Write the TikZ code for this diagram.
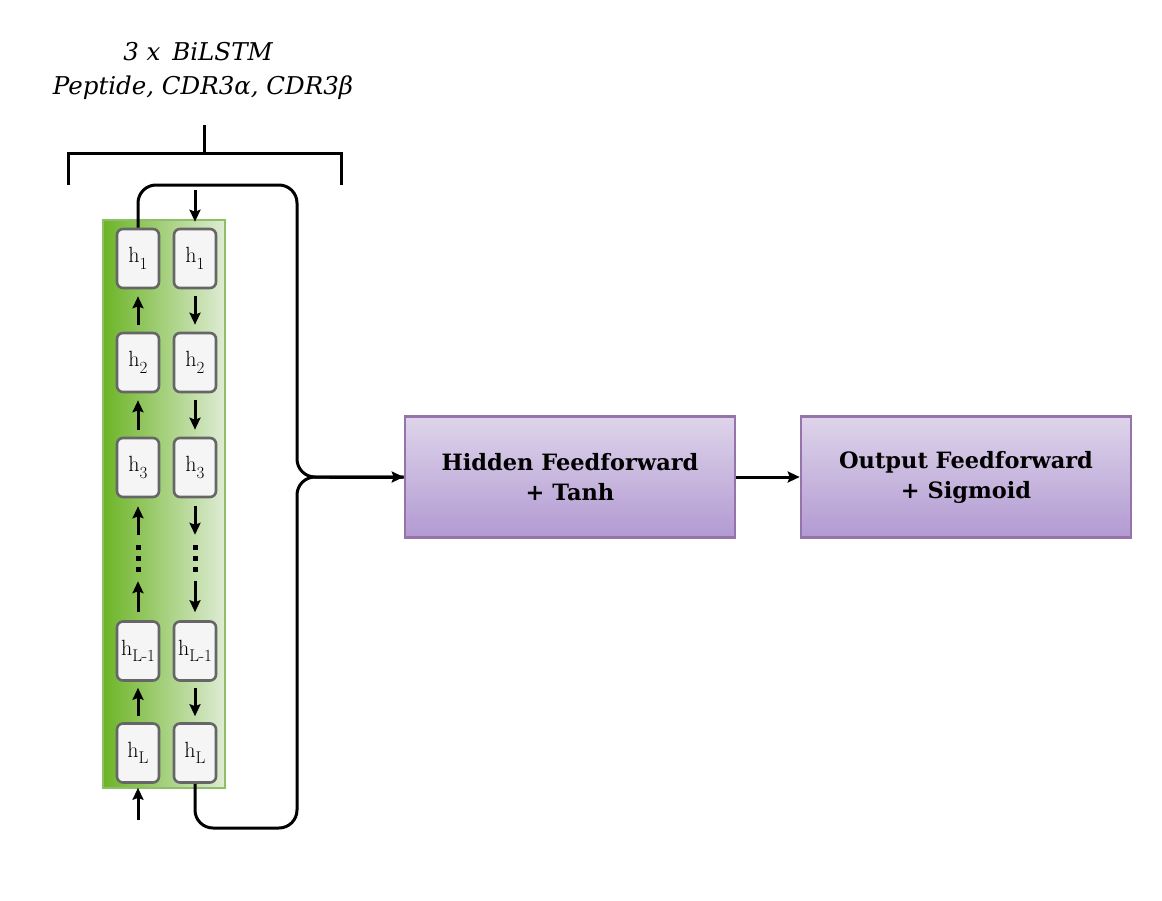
\documentclass[tikz,border=0pt]{standalone}
\usepackage{fontspec}
\newfontfamily\boxfont{DejaVu Serif}
\usetikzlibrary{arrows.meta,positioning}
\definecolor{gdark}{RGB}{108,180,38}
\definecolor{glight}{RGB}{222,236,212}
\definecolor{gborder}{RGB}{142,190,104}
\definecolor{ptop}{RGB}{222,212,234}
\definecolor{pbot}{RGB}{178,154,210}
\definecolor{pborder}{RGB}{150,115,168}
\definecolor{cellfill}{RGB}{245,245,245}
\definecolor{celldraw}{RGB}{102,102,102}
\newcommand\hlab[1]{h\raisebox{-0.3em}{\fontsize{17}{17}\selectfont #1}}
\tikzset{
  cell/.style={draw=celldraw, fill=cellfill, line width=2.6pt, rounded corners=6pt,
    minimum width=42pt, minimum height=59pt, inner sep=0pt,
    font=\fontsize{22}{22}\selectfont},
  ffbox/.style={draw=pborder, line width=2.6pt, top color=ptop, bottom color=pbot,
    minimum width=330pt, minimum height=121pt, align=center,
    font=\boxfont\bfseries\fontsize{22.5}{30}\selectfont},
  arr/.style={-{Stealth[length=12pt,width=11pt,inset=2pt]}, line width=3pt},
  conn/.style={line width=3pt, rounded corners=18pt},
  dotsbox/.style={minimum width=6pt, minimum height=26pt, inner sep=0pt},
  ttl/.style={font=\boxfont\itshape\fontsize{24.5}{28}\selectfont},
}
\begin{document}
\begin{tikzpicture}[x=1pt,y=-1pt]
\useasboundingbox (0,0) rectangle (1162,900);
% title
\node[ttl] (t1) at (198,52) {3 x\, BiLSTM};
\node[ttl] (t2) at (203,88) {Peptide, CDR3α, CDR3β};
% bracket
\coordinate (bl) at (68,185);
\coordinate (br) at (341,185);
\coordinate (bm) at (204,125);
\draw[line width=3pt] (bl) -- (68,153) -- (341,153) -- (br);
\draw[line width=3pt] (bm) -- (204,153);
% green panel
\node[draw=gborder, line width=2.4pt, left color=gdark, right color=glight,
  minimum width=122pt, minimum height=568pt, inner sep=0pt] (panel) at (164,504) {};
% cells
\node[cell] (L1) at (138,258.5) {\hlab{1}};
\node[cell] (L2) at (138,362.5) {\hlab{2}};
\node[cell] (L3) at (138,467.5) {\hlab{3}};
\node[cell] (L4) at (138,651) {\hlab{L-1}};
\node[cell] (L5) at (138,753) {\hlab{L}};
\node[cell] (R1) at (195,258.5) {\hlab{1}};
\node[cell] (R2) at (195,362.5) {\hlab{2}};
\node[cell] (R3) at (195,467.5) {\hlab{3}};
\node[cell] (R4) at (195,651) {\hlab{L-1}};
\node[cell] (R5) at (195,753) {\hlab{L}};
\node[dotsbox] (dL) at (138,558) {};
\node[dotsbox] (dR) at (195,558) {};
\foreach \d in {dL,dR}{
  \fill ([yshift=-11pt]\d.center) ++(-2.5,-2.5) rectangle ++(5,5);
  \fill (\d.center) ++(-2.5,-2.5) rectangle ++(5,5);
  \fill ([yshift=11pt]\d.center) ++(-2.5,-2.5) rectangle ++(5,5);
}
% left column arrows (up)
\coordinate (inL) at (138,820);
\draw[arr, shorten >=4pt] (inL) -- (L5.south);
\draw[arr, shorten <=6pt, shorten >=6pt] (L5.north) -- (L4.south);
\draw[arr, shorten <=8pt, shorten >=10pt] (L4.north) -- (dL.south);
\draw[arr, shorten <=10pt, shorten >=8pt] (dL.north) -- (L3.south);
\draw[arr, shorten <=7pt, shorten >=7pt] (L3.north) -- (L2.south);
\draw[arr, shorten <=7pt, shorten >=7pt] (L2.north) -- (L1.south);
% right column arrows (down)
\coordinate (inR) at (195,190);
\draw[arr, shorten >=6pt] (inR) -- (R1.north);
\draw[arr, shorten <=7pt, shorten >=7pt] (R1.south) -- (R2.north);
\draw[arr, shorten <=7pt, shorten >=7pt] (R2.south) -- (R3.north);
\draw[arr, shorten <=8pt, shorten >=10pt] (R3.south) -- (dR.north);
\draw[arr, shorten <=10pt, shorten >=8pt] (dR.south) -- (R4.north);
\draw[arr, shorten <=6pt, shorten >=6pt] (R4.south) -- (R5.north);
% feedforward boxes
\node[ffbox] (hid) at (570,477) {Hidden Feedforward\\+ Tanh};
\node[ffbox] (out) at (966,477) {Output Feedforward\\+ Sigmoid};
% connectors
\draw[conn] (L1.north) -- (138,185) -- (297,185) -- (297,477) -- (hid.west);
\draw[conn] (R5.south) -- (195,828) -- (297,828) -- (297,477) -- (hid.west);
\draw[arr] (330,477) -- (hid.west);
\draw[arr] (hid.east) -- (out.west);
\end{tikzpicture}
\end{document}
